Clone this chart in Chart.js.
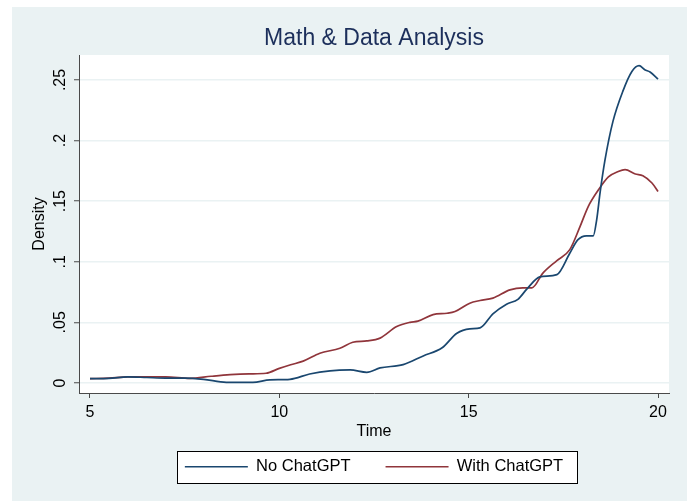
<!DOCTYPE html>
<html>
<head>
<meta charset="utf-8">
<title>Math & Data Analysis</title>
<script src="https://cdn.jsdelivr.net/npm/chart.js@4.4.1/dist/chart.umd.min.js"></script>
<style>
  html, body { margin: 0; padding: 0; background: #ffffff; }
  #wrap { width: 696px; height: 501px; }
</style>
</head>
<body>
<div id="wrap"><canvas id="densityChart" width="696" height="501"></canvas></div>
<script>
// values
const timeNo = [5.0, 5.5, 6.0, 6.5, 7.0, 7.5, 8.0, 8.6, 9.3, 9.75, 10.28, 10.8, 11.34, 11.87, 12.31, 12.66, 13.27, 13.8, 14.3, 14.69, 15.03, 15.3, 15.64, 16.0, 16.3, 16.54, 16.88, 17.33, 17.67, 17.88, 18.11, 18.29, 18.38, 18.47, 18.6, 18.81, 19.07, 19.31, 19.5, 19.65, 19.79, 20.0];
const densNo = [0.0035, 0.0037, 0.005, 0.0045, 0.004, 0.004, 0.003, 0.0005, 0.0005, 0.0025, 0.003, 0.0074, 0.010, 0.0107, 0.0088, 0.0124, 0.0151, 0.0223, 0.029, 0.041, 0.0446, 0.0454, 0.057, 0.065, 0.069, 0.0776, 0.0875, 0.0894, 0.107, 0.118, 0.1214, 0.1214, 0.1346, 0.157, 0.184, 0.2158, 0.2406, 0.257, 0.2618, 0.2585, 0.2566, 0.2508];

const timeWith = [5.0, 5.5, 6.0, 6.5, 7.0, 7.64, 8.2, 8.7, 9.2, 9.65, 10.0, 10.3, 10.63, 11.07, 11.6, 11.94, 12.31, 12.66, 13.1, 13.45, 13.66, 14.06, 14.43, 14.64, 15.03, 15.3, 15.64, 16.09, 16.43, 16.67, 16.96, 17.33, 17.67, 17.94, 18.16, 18.42, 18.69, 18.95, 19.13, 19.4, 19.6, 19.84, 20.0];
const densWith = [0.0035, 0.004, 0.005, 0.005, 0.005, 0.0038, 0.0055, 0.0068, 0.0075, 0.008, 0.012, 0.015, 0.018, 0.0245, 0.0286, 0.0336, 0.0347, 0.037, 0.0465, 0.050, 0.051, 0.0564, 0.0575, 0.0589, 0.0658, 0.068, 0.070, 0.0768, 0.0785, 0.0785, 0.0906, 0.101, 0.110, 0.129, 0.1457, 0.159, 0.170, 0.1745, 0.176, 0.1724, 0.171, 0.165, 0.158];

const seriesNames = ['No ChatGPT', 'With ChatGPT'];
const xTicks = [5, 10, 15, 20];
const yTicks = [0, 0.05, 0.1, 0.15, 0.2, 0.25];
const yTickLabels = ['0', '.05', '.1', '.15', '.2', '.25'];

const NAVY = '#1a476f';
const MAROON = '#90353b';
const PANEL = '#eaf2f3';
const AXIS = '#4a4a4a';

Chart.defaults.font.family = "'Liberation Sans', Arial, Helvetica, sans-serif";
Chart.defaults.color = '#000';

function toPoints(xs, ys) {
    return xs.map((x, i) => ({ x: x, y: ys[i] }));
}

// light panel behind everything, white plot region, box round the legend
const stataBackground = {
    id: 'stataBackground',
    beforeDraw(chart) {
        const ctx = chart.ctx;
        const a = chart.chartArea;
        ctx.save();
        ctx.fillStyle = '#ffffff';
        ctx.fillRect(0, 0, chart.width, chart.height);
        ctx.fillStyle = PANEL;
        ctx.fillRect(12, 7, 675, chart.height - 7);
        ctx.fillStyle = '#ffffff';
        ctx.fillRect(a.left, a.top, a.right - a.left, a.bottom - a.top);

        const hb = chart.legend.legendHitBoxes;
        if (hb && hb.length) {
            const last = hb[hb.length - 1];
            const left = Math.round(hb[0].left - 8) + 0.5;
            const right = Math.round(last.left + last.width + 14) + 0.5;
            const mid = hb[0].top + hb[0].height / 2;
            const top = Math.round(mid - 16) + 0.5;
            ctx.fillStyle = '#ffffff';
            ctx.fillRect(left, top, right - left, 32);
            ctx.strokeStyle = '#000';
            ctx.lineWidth = 1;
            ctx.strokeRect(left, top, right - left, 32);
        }
        ctx.restore();
    }
};

const ctx = document.getElementById('densityChart').getContext('2d');
const chart = new Chart(ctx, {
    type: 'line',
    data: {
        datasets: [{
            label: seriesNames[0],
            data: toPoints(timeNo, densNo),
            borderColor: NAVY,
            backgroundColor: NAVY,
            borderWidth: 1.7,
            pointRadius: 0,
            fill: false,
            cubicInterpolationMode: 'monotone'
        }, {
            label: seriesNames[1],
            data: toPoints(timeWith, densWith),
            borderColor: MAROON,
            backgroundColor: MAROON,
            borderWidth: 1.7,
            pointRadius: 0,
            fill: false,
            cubicInterpolationMode: 'monotone'
        }]
    },
    options: {
        responsive: false,
        animation: false,
        devicePixelRatio: 1,
        layout: { padding: { left: 12, right: 27, top: 10, bottom: 16 } },
        plugins: {
            title: {
                display: true,
                fullSize: false,
                text: 'Math & Data Analysis',
                color: '#1c2f5b',
                font: { size: 23, weight: 'normal' },
                padding: { top: 15.2, bottom: 2.2 }
            },
            legend: {
                position: 'bottom',
                fullSize: false,
                labels: {
                    usePointStyle: true,
                    pointStyle: 'line',
                    pointStyleWidth: 63,
                    padding: 35,
                    color: '#000',
                    font: { size: 16.5 }
                }
            },
            tooltip: { enabled: false }
        },
        scales: {
            x: {
                type: 'linear',
                min: 4.71,
                max: 20.29,
                afterBuildTicks(scale) {
                    scale.ticks = xTicks.map(v => ({ value: v }));
                },
                afterFit(scale) {
                    scale.height = 30.5;
                },
                grid: {
                    drawOnChartArea: false,
                    tickLength: 5,
                    tickColor: AXIS,
                    tickWidth: 1
                },
                border: { display: true, color: AXIS, width: 1 },
                ticks: {
                    color: '#000',
                    font: { size: 16 },
                    padding: 5,
                    maxRotation: 0,
                    callback: (v) => String(v)
                },
                title: {
                    display: true,
                    text: 'Time',
                    color: '#000',
                    font: { size: 16 },
                    padding: { top: 0, bottom: -18 }
                }
            },
            y: {
                min: -0.0083,
                max: 0.2706,
                afterBuildTicks(scale) {
                    scale.ticks = yTicks.map(v => ({ value: v }));
                },
                afterFit(scale) {
                    scale.width = 67;
                },
                grid: {
                    color: PANEL,
                    lineWidth: 1.5,
                    tickLength: 5,
                    tickColor: AXIS,
                    tickWidth: 1
                },
                border: { display: true, color: AXIS, width: 1 },
                ticks: {
                    color: '#000',
                    font: { size: 16 },
                    padding: 2,
                    minRotation: 90,
                    maxRotation: 90,
                    crossAlign: 'center',
                    callback: (v, i) => yTickLabels[i]
                },
                title: {
                    display: true,
                    text: 'Density',
                    color: '#000',
                    font: { size: 16 },
                    padding: { top: 18, bottom: 0 }
                }
            }
        }
    },
    plugins: [stataBackground]
});
</script>
</body>
</html>
